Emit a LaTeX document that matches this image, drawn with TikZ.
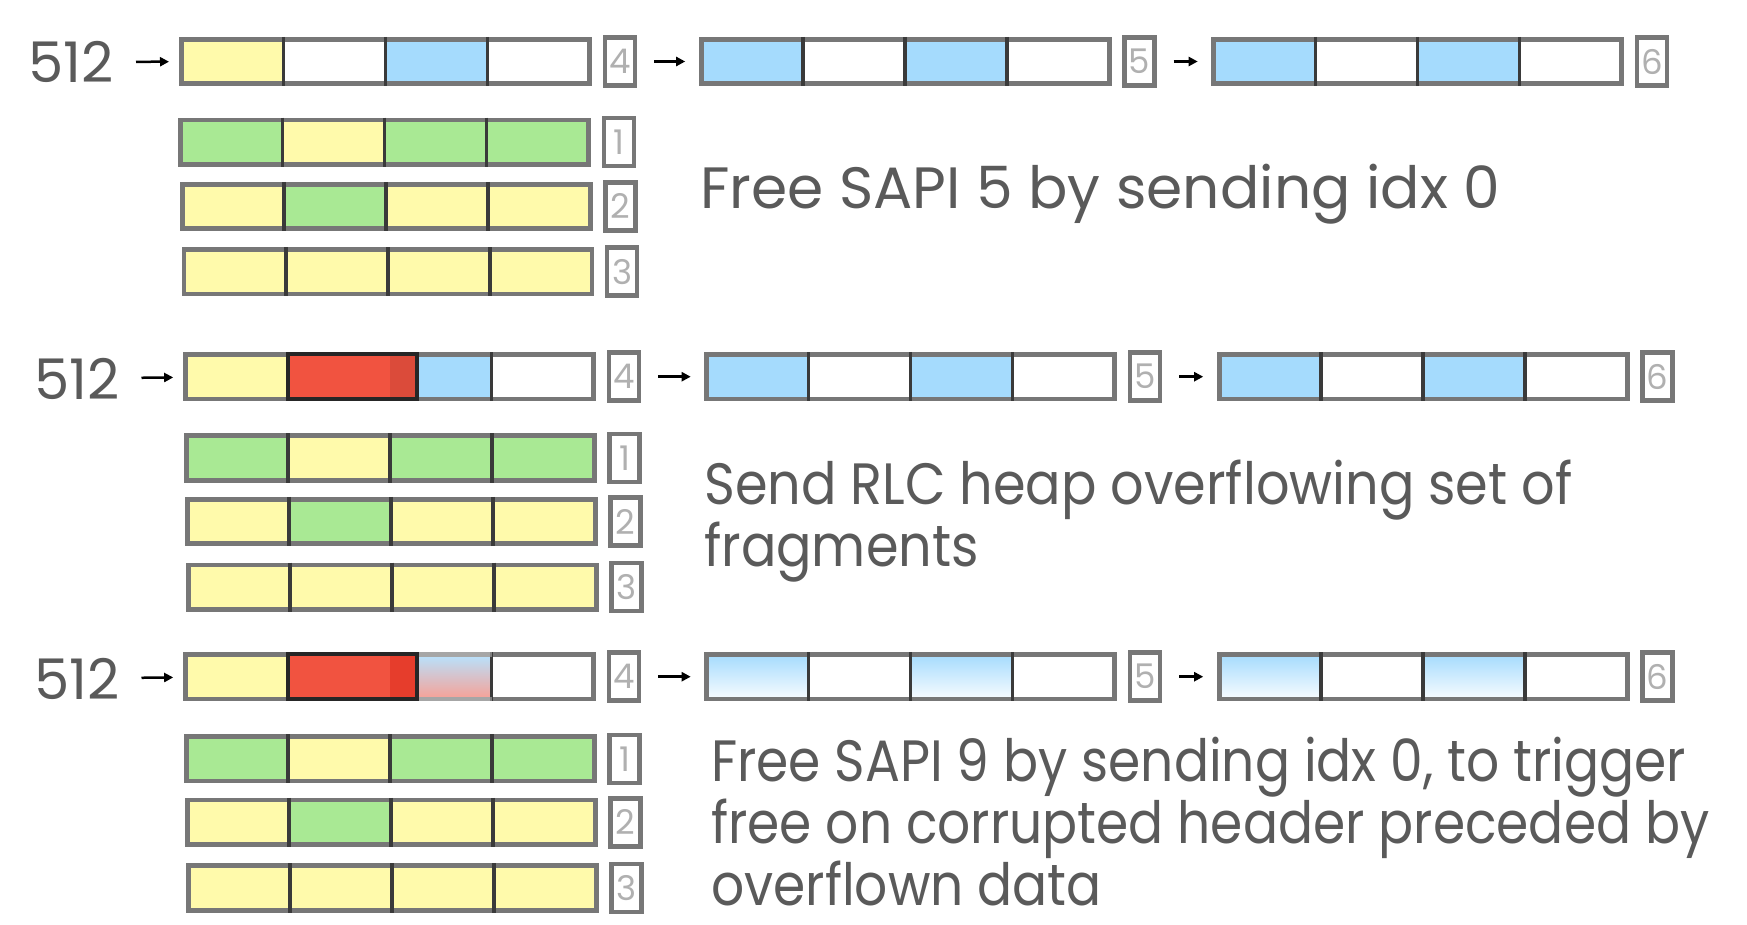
\documentclass[tikz,border=0pt]{standalone}
\usepackage{fontspec}
\setmainfont{Poppins}
\usetikzlibrary{positioning,arrows.meta}

\definecolor{memyellow}{HTML}{FFFAAB}
\definecolor{memgreen}{HTML}{A9E994}
\definecolor{memblue}{HTML}{A5DBFD}
\definecolor{memred}{HTML}{F15340}
\definecolor{hotred}{HTML}{E63D2C}
\definecolor{framegray}{HTML}{777777}
\definecolor{divgray}{HTML}{3A3A3A}
\definecolor{taggray}{HTML}{B0B0B0}
\definecolor{textgray}{HTML}{5A5A5A}
\definecolor{darkline}{HTML}{262626}

\tikzset{
  cell/.style={minimum width=102pt, minimum height=44.5pt, inner sep=0pt, outer sep=0pt},
  yel/.style={fill=memyellow},
  grn/.style={fill=memgreen},
  blu/.style={fill=memblue},
  emp/.style={fill=white},
  fad/.style={top color=memblue, bottom color=memblue!8},
  smr/.style={top color=memblue!80!white, bottom color=memred!55!white},
  slabframe/.style={draw=framegray, line width=4.8pt},
  divider/.style={draw=divgray, line width=3.5pt, shorten <=-2.3pt, shorten >=-2.3pt},
  slabtag/.style={draw=framegray, fill=white, line width=4.5pt, minimum width=30pt,
    minimum height=48pt, inner sep=0pt, text=taggray, font=\fontsize{34}{34}\selectfont},
  link/.style={-{Triangle[length=9pt,width=9pt]}, line width=2.5pt, shorten <=17pt, shorten >=16pt},
  sizelabel/.style={text=textgray, inner sep=0pt, font=\fontsize{56}{56}\selectfont},
  desc/.style={text=textgray, inner sep=0pt, anchor=base west, align=left,
    font=\fontsize{58.3}{62}\selectfont},
  squeeze/.style={font=\fontsize{58.3}{62}\selectfont\addfontfeature{FakeStretch=#1}},
  overflow/.style={draw=darkline, line width=4pt}
}

% one row of four chunks with its number box
\newcommand{\slab}[4]{%
  \foreach \s [count=\i] in {#3}
    \node[cell, \s, anchor=west, xshift={(\i-1)*102pt}] (#1-\i) at #2 {};
  \draw[slabframe] (#1-1.north west) rectangle (#1-4.south east);
  \foreach \i in {1,2,3}
    \draw[divider] (#1-\i.north east) -- (#1-\i.south east);
  \node[slabtag, right=13pt of #1-4] (#1-t) {#4};
}

\begin{document}
\begin{tikzpicture}[x=1pt, y=-1pt]
  \useasboundingbox (0,0) rectangle (1747,925);

  % state 1
  \slab{p1a}{(181.5,61.5)}{yel,emp,blu,emp}{4}
  \slab{p1b}{(701.2,61.5)}{blu,emp,blu,emp}{5}
  \slab{p1c}{(1213.7,61.5)}{blu,emp,blu,emp}{6}
  \slab{p1r1}{(180.5,142.2)}{grn,yel,grn,grn}{1}
  \slab{p1r2}{(182.2,206.4)}{yel,grn,yel,yel}{2}
  \slab{p1r3}{(183.9,271.7)}{yel,yel,yel,yel}{3}
  \node[sizelabel, anchor=east] (p1n) at (114,62) {512};
  \draw[link, shorten <=22pt, shorten >=12.5pt] (p1n) -- (p1a-1);
  \draw[link] (p1a-t) -- (p1b-1);
  \draw[link] (p1b-t) -- (p1c-1);
  \node[desc] (p1d) at (700,209) {Free SAPI 5 by sending idx 0};

  % state 2
  \slab{p2a}{(185.7,376.7)}{yel,emp,blu,emp}{4}
  \slab{p2b}{(706.7,376.7)}{blu,emp,blu,emp}{5}
  \slab{p2c}{(1219.2,376.7)}{blu,emp,blu,emp}{6}
  \slab{p2r1}{(186.2,458)}{grn,yel,grn,grn}{1}
  \slab{p2r2}{(187.2,521.5)}{yel,grn,yel,yel}{2}
  \slab{p2r3}{(188.2,587.2)}{yel,yel,yel,yel}{3}
  \fill[memred] (p2a-2.north west) rectangle ([xshift=27pt]p2a-3.south west);
  \fill[black, fill opacity=.09] (p2a-3.north west) rectangle ([xshift=27pt]p2a-3.south west);
  \draw[overflow] (p2a-2.north west) rectangle ([xshift=27pt]p2a-3.south west);
  \node[sizelabel, anchor=east] (p2n) at (119.5,378.5) {512};
  \draw[link, shorten <=22pt, shorten >=12.5pt] (p2n) -- (p2a-1);
  \draw[link] (p2a-t) -- (p2b-1);
  \draw[link] (p2b-t) -- (p2c-1);
  \node[desc, squeeze=0.9] (p2d) at (704,566) {Send RLC heap overflowing set of\\fragments};

  % state 3
  \slab{p3a}{(185.7,676.7)}{yel,emp,smr,emp}{4}
  \slab{p3b}{(706.7,676.7)}{fad,emp,fad,emp}{5}
  \slab{p3c}{(1219.2,676.7)}{fad,emp,fad,emp}{6}
  \slab{p3r1}{(186.2,758.8)}{grn,yel,grn,grn}{1}
  \slab{p3r2}{(187.2,822.3)}{yel,grn,yel,yel}{2}
  \slab{p3r3}{(188.2,888)}{yel,yel,yel,yel}{3}
  \draw[white, opacity=.35, line width=4.8pt] (p3a-3.north west) -- (p3a-3.north east)
    (p3a-3.south west) -- (p3a-3.south east);
  \fill[memred] (p3a-2.north west) rectangle ([xshift=27pt]p3a-3.south west);
  \fill[hotred] (p3a-3.north west) rectangle ([xshift=27pt]p3a-3.south west);
  \draw[overflow] (p3a-2.north west) rectangle ([xshift=27pt]p3a-3.south west);
  \node[sizelabel, anchor=east] (p3n) at (119.5,678.5) {512};
  \draw[link, shorten <=22pt, shorten >=12.5pt] (p3n) -- (p3a-1);
  \draw[link] (p3a-t) -- (p3b-1);
  \draw[link] (p3b-t) -- (p3c-1);
  \node[desc, squeeze=0.89] (p3d) at (711,905) {Free SAPI 9 by sending idx 0, to trigger\\free on corrupted header preceded by\\overflown data};
\end{tikzpicture}
\end{document}
